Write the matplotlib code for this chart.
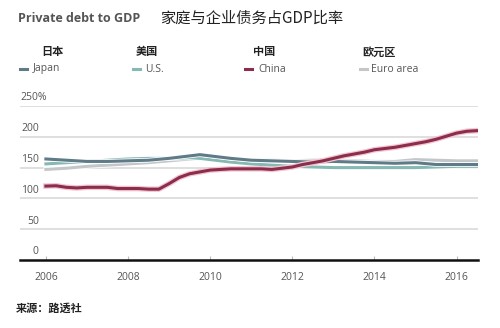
import matplotlib
matplotlib.use("Agg")
import matplotlib.pyplot as plt
from matplotlib import patheffects as pe
import numpy as np

plt.rcParams['font.family'] = ['Open Sans', 'Noto Sans CJK SC', 'DejaVu Sans']

# ---- data ----
years_semi = [2006.0, 2006.5, 2007.0, 2007.5, 2008.0, 2008.5, 2009.0, 2009.5, 2009.75,
              2010.0, 2010.5, 2011.0, 2011.5, 2012.0, 2012.5, 2013.0, 2013.5, 2014.0,
              2014.5, 2015.0, 2015.5, 2016.0, 2016.5]
japan = [164, 162, 160, 160, 161, 162, 165, 169, 171,
         169, 165, 162, 161, 160, 159, 160, 159, 158,
         157, 158, 155, 155, 155]
us = [156, 158, 160, 162, 164, 165, 165, 166, 165,
      163, 159, 156, 154, 152, 151, 150, 150, 150,
      150, 150, 151, 152, 152]
euro = [147, 149, 152, 154, 156, 158, 161, 164, 165,
        165, 163, 162, 162, 161, 162, 162, 161, 160,
        160, 163, 162, 161, 161]

years_china = [2006.0, 2006.25, 2006.5, 2006.75, 2007.0, 2007.25, 2007.5, 2007.75, 2008.0,
               2008.25, 2008.5, 2008.75, 2009.0, 2009.25, 2009.5, 2009.75, 2010.0, 2010.25,
               2010.5, 2010.75, 2011.0, 2011.25, 2011.5, 2011.75, 2012.0, 2012.25, 2012.5,
               2012.75, 2013.0, 2013.25, 2013.5, 2013.75, 2014.0, 2014.25, 2014.5, 2014.75,
               2015.0, 2015.25, 2015.5, 2015.75, 2016.0, 2016.25, 2016.5]
china = [120, 120.5, 118, 117, 118, 118, 118, 116, 116,
         116, 115, 115, 124, 134, 140, 143, 146, 147,
         148, 148, 148, 148, 147, 149, 151, 155, 158,
         161, 165, 169, 172, 175, 179, 181, 183, 186,
         189, 192, 196, 201, 206, 209, 210]

series_cn = ["日本", "美国", "中国", "欧元区"]
series_en = ["Japan", "U.S.", "China", "Euro area"]
colors = ["#5f7b88", "#86b9b3", "#8b2d4b", "#c3c7c9"]

yticks = [0, 50, 100, 150, 200, 250]
xticks = [2006, 2008, 2010, 2012, 2014, 2016]

W, H = 500, 328
fig = plt.figure(figsize=(W / 100, H / 100), dpi=100)
fig.patch.set_facecolor("white")

def fx(px):
    return px / W

def fy(py):
    return 1 - py / H

ax = fig.add_axes([fx(20), fy(260), fx(478) - fx(20), fy(106) - fy(260)])
ax.set_xlim(2005.37, 2016.52)
ax.set_ylim(0, 250)

for v in yticks[1:]:
    ax.axhline(v, color="#dcdcdc", lw=1.3, zorder=1)
ax.axhline(0, color="#111111", lw=1.8, zorder=5, clip_on=False)

for s in ax.spines.values():
    s.set_visible(False)
ax.set_yticks([])
ax.set_xticks(xticks)
ax.set_xticklabels([str(x) for x in xticks], fontsize=7.5, color="#555555")
ax.tick_params(axis="x", direction="in", length=3, color="#bbbbbb", pad=9, width=0.8)

# y labels above gridlines
for v in yticks[:-1]:
    ax.annotate(str(v), xy=(0, v), xycoords=("axes fraction", "data"),
                xytext=(13.5, 5.8), textcoords="offset points",
                ha="right", va="center", fontsize=7.5, color="#555555")
ax.annotate(f"{yticks[-1]}%", xy=(0, yticks[-1]), xycoords=("axes fraction", "data"),
            xytext=(0, 5.8), textcoords="offset points",
            ha="left", va="center", fontsize=7.5, color="#555555")

# lines
halo = [pe.Stroke(linewidth=3.4, foreground="white"), pe.Normal()]
ax.plot(years_semi, euro, color=colors[3], lw=2.2, zorder=3, path_effects=halo)
ax.plot(years_semi, us, color=colors[1], lw=2.2, zorder=3, path_effects=halo)
ax.plot(years_semi, japan, color=colors[0], lw=2.2, zorder=3, path_effects=halo)
ax.plot(years_china, china, color=colors[2], lw=2.2, zorder=4,
        path_effects=[pe.Stroke(linewidth=4.0, foreground="#f2c6d2"), pe.Normal()])

# titles
fig.text(fx(18), fy(18), "Private debt to GDP", fontsize=9, fontweight="bold",
         color="#555555", ha="left", va="center")
fig.text(fx(160), fy(18), "家庭与企业债务占GDP比率", fontsize=11,
         color="#222222", ha="left", va="center",
         family=["Noto Sans CJK SC", "DejaVu Sans"])

# legend
cn_x = [52, 147, 264, 379]
en_x = [33, 145, 258, 371]
dash_x = [20, 133, 245, 360]
for i in range(4):
    fig.text(fx(cn_x[i]), fy(52), series_cn[i], fontsize=8, fontweight="bold",
             color="#222222", ha="center", va="center",
             family=["Noto Sans CJK SC", "DejaVu Sans"])
    fig.text(fx(en_x[i]), fy(69), series_en[i], fontsize=7.5,
             color="#555555", ha="left", va="center")
    fig.add_artist(plt.Line2D([fx(dash_x[i]), fx(dash_x[i] + 7)], [fy(69), fy(69)],
                              color=colors[i], lw=2.2, transform=fig.transFigure))

# source
fig.text(fx(16), fy(308), "来源：路透社", fontsize=8, fontweight="bold",
         color="#222222", ha="left", va="center",
         family=["Noto Sans CJK SC", "DejaVu Sans"])

fig.savefig("out.png", dpi=100, facecolor="white")
